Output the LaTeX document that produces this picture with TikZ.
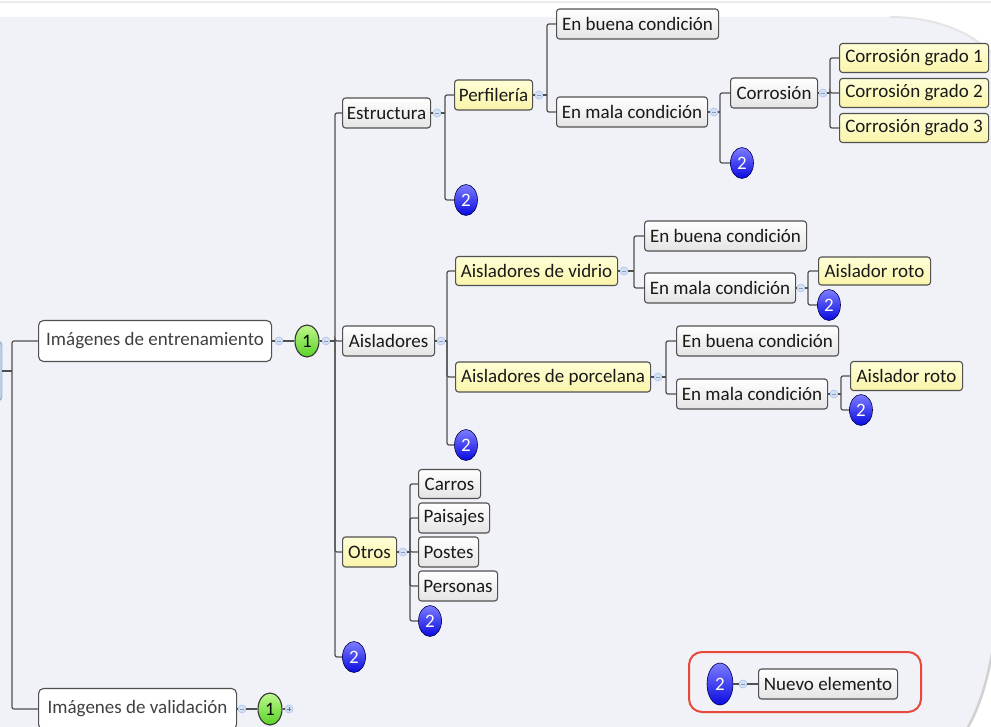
\documentclass[tikz,border=0pt]{standalone}
\usepackage{fontspec}
\setmainfont{Carlito}
\usetikzlibrary{shapes.geometric}
\definecolor{panelc}{RGB}{241,242,248}
\definecolor{linec}{RGB}{80,80,80}
\definecolor{txtc}{RGB}{25,25,25}
\definecolor{yeltop}{RGB}{255,255,214}
\definecolor{yelbot}{RGB}{250,244,170}
\definecolor{graybot}{RGB}{228,228,228}
\definecolor{dotf}{RGB}{212,224,244}
\definecolor{dotd}{RGB}{170,195,232}
\definecolor{bluetop}{RGB}{125,125,255}
\definecolor{bluebot}{RGB}{10,10,225}
\definecolor{greentop}{RGB}{190,248,140}
\definecolor{greenbot}{RGB}{90,210,40}
\definecolor{redc}{RGB}{232,72,58}
\begin{document}
\begin{tikzpicture}[x=1pt,y=-1pt,
  box/.style={draw=linec, line width=1.1pt, rounded corners=3pt, inner sep=0pt, anchor=west,
    font=\fontsize{19}{21}\selectfont, text=txtc, top color=white, bottom color=graybot, minimum height=30pt},
  yel/.style={box, top color=yeltop, bottom color=yelbot},
  wbox/.style={box, top color=white, bottom color=white, rounded corners=5pt, minimum height=41pt, text=black!75},
  blueb/.style={ellipse, draw=blue!30!black, line width=0.6pt, inner sep=0pt, minimum width=23pt, minimum height=31pt,
    top color=bluetop, bottom color=bluebot, text=white, font=\fontsize{19}{21}\selectfont},
  greenb/.style={ellipse, draw=black!80, line width=1.1pt, inner sep=0pt, minimum width=24pt, minimum height=32pt,
    top color=greentop, bottom color=greenbot, text=black, font=\fontsize{19}{21}\selectfont},
  mdot/.style={circle, draw=dotd, fill=dotf, line width=0.6pt, minimum size=8pt, inner sep=0pt,
    path picture={\draw[dotd!80!black, line width=0.5pt] ([xshift=-2.2pt]path picture bounding box.center) -- ([xshift=2.2pt]path picture bounding box.center);}},
  pdot/.style={mdot, path picture={\draw[dotd!60!black, line width=0.5pt] ([xshift=-2.2pt]path picture bounding box.center) -- ([xshift=2.2pt]path picture bounding box.center) ([yshift=-2.2pt]path picture bounding box.center) -- ([yshift=2.2pt]path picture bounding box.center);}},
  conn/.style={draw=linec, line width=1.2pt, rounded corners=2pt}
]
\useasboundingbox (0,0) rectangle (991,727);
\clip (0,0) rectangle (991,727);
% background
\fill[white] (0,0) rectangle (991,727);
\draw[black!8, line width=2pt] (0,2) -- (991,2);
\fill[panelc] (-10,17) -- (890,17) .. controls (940,17) and (978,35) .. (1000,62) -- (1000,560)
  .. controls (998,640) and (988,700) .. (960,740) -- (-10,740) -- cycle;
\draw[black!10, line width=2pt] (890,17) .. controls (940,17) and (978,35) .. (1000,62);
\draw[black!18, line width=2.5pt] (1000,560) .. controls (998,640) and (988,700) .. (960,740);

% root (partially visible)
\node[draw={rgb,255:red,90;green,125;blue,170}, fill={rgb,255:red,190;green,208;blue,232}, rounded corners=4pt,
  minimum width=30pt, minimum height=60pt, inner sep=0pt] (R) at (-13,371) {};
\coordinate (T0) at (12,371);

% level 1
\node[wbox, minimum width=233pt] (ie) at (38,341) {Imágenes de entrenamiento};
\node[wbox, minimum width=198pt] (iv) at (38,709) {Imágenes de validación};
\node[mdot] (d1) at (279,341) {};
\node[greenb] (g1) at (307,341) {1};
\node[mdot] (d2) at (326,341) {};
\coordinate (T1) at (335,341);
\node[mdot] (d3) at (242,709) {};
\node[greenb] (g2) at (270,709) {1};
\node[pdot] (d4) at (289,709) {};

% level 2
\node[box, minimum width=88pt] (es) at (342,113) {Estructura};
\node[box, minimum width=92pt] (ai) at (342,341) {Aisladores};
\node[yel, minimum width=54pt] (ot) at (342,552) {Otros};
\node[blueb] (b1) at (354,657) {2};

% Estructura branch
\node[mdot] (d5) at (437,113) {};
\coordinate (T2) at (445,113);
\node[yel, minimum width=78pt] (pe) at (454,95) {Perfilería};
\node[blueb] (b2) at (466,200) {2};
\node[mdot] (d6) at (539,95) {};
\coordinate (T3) at (547,95);
\node[box, minimum width=162pt] (eb1) at (556,24) {En buena condición};
\node[box, minimum width=151pt] (em1) at (556,112) {En mala condición};
\node[mdot] (d7) at (714,112) {};
\coordinate (T4) at (720,112);
\node[box, minimum width=87pt] (co) at (730,93) {Corrosión};
\node[blueb] (b3) at (742,163) {2};
\node[mdot] (d8) at (823,93) {};
\coordinate (T5) at (830,93);
\node[yel, minimum width=149pt, minimum height=29pt] (cg1) at (839,58) {Corrosión grado 1};
\node[yel, minimum width=149pt, minimum height=29pt] (cg2) at (839,93) {Corrosión grado 2};
\node[yel, minimum width=149pt, minimum height=29pt] (cg3) at (839,128) {Corrosión grado 3};

% Aisladores branch
\node[mdot] (d9) at (441,341) {};
\coordinate (T6) at (447,341);
\node[yel, minimum width=162pt, minimum height=29pt] (av) at (455,271) {Aisladores de vidrio};
\node[yel, minimum width=195pt] (ap) at (455,377) {Aisladores de porcelana};
\node[blueb] (b4) at (466,445) {2};
\node[mdot] (d10) at (624,271) {};
\coordinate (T7) at (634,271);
\node[box, minimum width=162pt] (eb2) at (644,236) {En buena condición};
\node[box, minimum width=151pt] (em2) at (644,288) {En mala condición};
\node[mdot] (d11) at (801,288) {};
\coordinate (T8) at (808,288);
\node[yel, minimum width=112pt, minimum height=28pt] (ar1) at (818,271) {Aislador roto};
\node[blueb] (b5) at (829,305) {2};
\node[mdot] (d12) at (658,377) {};
\coordinate (T9) at (666,377);
\node[box, minimum width=162pt] (eb3) at (676,341) {En buena condición};
\node[box, minimum width=151pt] (em3) at (676,394) {En mala condición};
\node[mdot] (d13) at (834,394) {};
\coordinate (T10) at (841,394);
\node[yel, minimum width=112pt, minimum height=29pt] (ar2) at (850,376) {Aislador roto};
\node[blueb] (b6) at (861,410) {2};

% Otros branch
\node[mdot] (d14) at (403,552) {};
\coordinate (T11) at (410,552);
\node[box, minimum width=62pt, minimum height=29pt] (ca) at (418,484) {Carros};
\node[box, minimum width=71pt] (pa) at (418,518) {Paisajes};
\node[box, minimum width=60pt] (po) at (418,552) {Postes};
\node[box, minimum width=79pt] (pr) at (418,586) {Personas};
\node[blueb] (b7) at (430,621) {2};

% legend
\node[draw=redc, line width=2pt, rounded corners=13pt, minimum width=232pt, minimum height=60pt, inner sep=0pt] (leg) at (805,682) {};
\node[blueb, minimum width=26pt, minimum height=42pt] (b8) at (720,684) {2};
\node[mdot] (d15) at (743,684) {};
\node[box, minimum width=139pt] (ne) at (758,684) {Nuevo elemento};

% connectors
\draw[conn] (R.east) -- (T0);
\draw[conn] (T0) |- (ie.west);
\draw[conn] (T0) |- (iv.west);
\draw[conn] (ie.east) -- (d1.west);
\draw[conn] (d1.east) -- (g1.west);
\draw[conn] (g1.east) -- (d2.west);
\draw[conn] (d2.east) -- (T1);
\draw[conn] (iv.east) -- (d3.west);
\draw[conn] (d3.east) -- (g2.west);
\draw[conn] (g2.east) -- (d4.west);
\foreach \c in {es,ai,ot,b1} \draw[conn] (T1) |- (\c.west);
\draw[conn] (es.east) -- (d5.west); \draw[conn] (d5.east) -- (T2);
\foreach \c in {pe,b2} \draw[conn] (T2) |- (\c.west);
\draw[conn] (pe.east) -- (d6.west); \draw[conn] (d6.east) -- (T3);
\foreach \c in {eb1,em1} \draw[conn] (T3) |- (\c.west);
\draw[conn] (em1.east) -- (d7.west); \draw[conn] (d7.east) -- (T4);
\foreach \c in {co,b3} \draw[conn] (T4) |- (\c.west);
\draw[conn] (co.east) -- (d8.west); \draw[conn] (d8.east) -- (T5);
\foreach \c in {cg1,cg2,cg3} \draw[conn] (T5) |- (\c.west);
\draw[conn] (ai.east) -- (d9.west); \draw[conn] (d9.east) -- (T6);
\foreach \c in {av,ap,b4} \draw[conn] (T6) |- (\c.west);
\draw[conn] (av.east) -- (d10.west); \draw[conn] (d10.east) -- (T7);
\foreach \c in {eb2,em2} \draw[conn] (T7) |- (\c.west);
\draw[conn] (em2.east) -- (d11.west); \draw[conn] (d11.east) -- (T8);
\foreach \c in {ar1,b5} \draw[conn] (T8) |- (\c.west);
\draw[conn] (ap.east) -- (d12.west); \draw[conn] (d12.east) -- (T9);
\foreach \c in {eb3,em3} \draw[conn] (T9) |- (\c.west);
\draw[conn] (em3.east) -- (d13.west); \draw[conn] (d13.east) -- (T10);
\foreach \c in {ar2,b6} \draw[conn] (T10) |- (\c.west);
\draw[conn] (ot.east) -- (d14.west); \draw[conn] (d14.east) -- (T11);
\foreach \c in {ca,pa,po,pr,b7} \draw[conn] (T11) |- (\c.west);
\draw[conn] (b8.east) -- (d15.west); \draw[conn] (d15.east) -- (ne.west);
\end{tikzpicture}
\end{document}
